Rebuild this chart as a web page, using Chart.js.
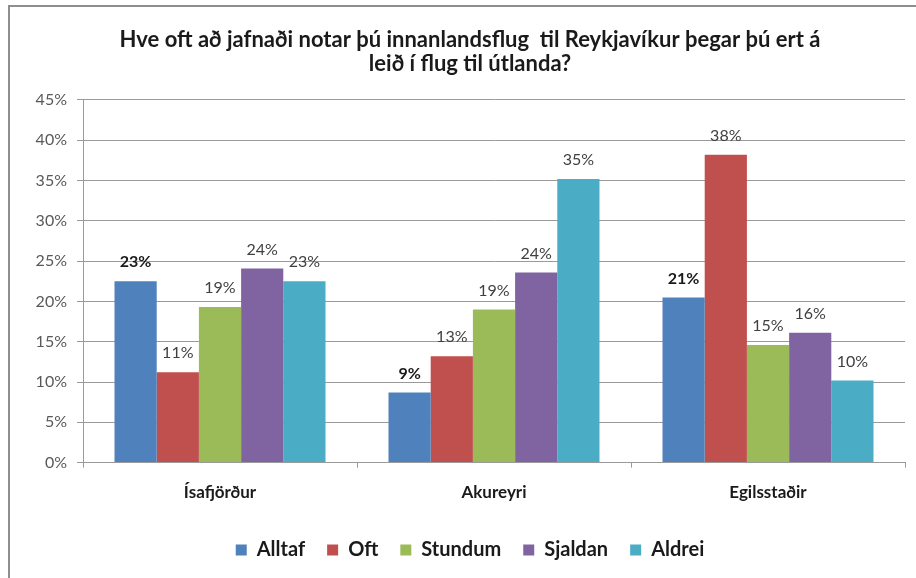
<!DOCTYPE html>
<html>
<head>
<meta charset="utf-8">
<script src="https://cdn.jsdelivr.net/npm/chart.js@4/dist/chart.umd.min.js"></script>
<style>
    html, body { margin: 0; padding: 0; background: #fff; }
    #wrap { position: relative; width: 916px; height: 578px; overflow: hidden; }
    #frame { position: absolute; left: 8px; top: 5px; width: 950px; height: 650px; border-left: 2px solid #8e8e8e; border-top: 2px solid #8e8e8e; }
    canvas { position: absolute; left: 0; top: 0; }
</style>
</head>
<body>
<div id="wrap">
    <div id="frame"></div>
    <canvas id="chart" width="916" height="578"></canvas>
</div>
<script>
var categories = ['Ísafjörður', 'Akureyri', 'Egilsstaðir'];
var seriesNames = ['Alltaf', 'Oft', 'Stundum', 'Sjaldan', 'Aldrei'];
var alltaf = [22.5, 8.7, 20.5];
var oft = [11.2, 13.2, 38.2];
var stundum = [19.3, 19.0, 14.6];
var sjaldan = [24.1, 23.6, 16.1];
var aldrei = [22.5, 35.2, 10.2];
var yTicks = [0, 5, 10, 15, 20, 25, 30, 35, 40, 45];
var colors = ['#4F81BD', '#C0504D', '#9BBB59', '#8064A2', '#4BACC6'];

var font = 'Lato, "Open Sans", sans-serif';

// labels above the bars, the first series in bold
var barLabels = {
    id: 'barLabels',
    afterDatasetsDraw: function (chart) {
        var ctx = chart.ctx;
        ctx.save();
        ctx.textAlign = 'center';
        ctx.textBaseline = 'middle';
        chart.data.datasets.forEach(function (ds, i) {
            var meta = chart.getDatasetMeta(i);
            ctx.font = (i === 0 ? 'bold ' : '') + '16px ' + font;
            ctx.fillStyle = i === 0 ? '#1a1a1a' : '#404040';
            meta.data.forEach(function (bar, j) {
                ctx.fillText(Math.round(ds.data[j]) + '%', bar.x, bar.y - 19);
            });
        });
        ctx.restore();
    }
};

var ctx = document.getElementById('chart');
var values = [alltaf, oft, stundum, sjaldan, aldrei];

var chart = new Chart(ctx, {
    type: 'bar',
    data: {
        labels: categories,
        datasets: seriesNames.map(function (name, i) {
            return {
                label: name,
                data: values[i],
                backgroundColor: colors[i],
                borderWidth: 0,
                categoryPercentage: 0.77,
                barPercentage: 1
            };
        })
    },
    options: {
        responsive: false,
        animation: false,
        layout: { padding: { left: 35, right: 11, top: 12, bottom: 8 } },
        plugins: {
            title: {
                display: true,
                text: ['Hve oft að jafnaði notar þú innanlandsflug  til Reykjavíkur þegar þú ert á', 'leið í flug til útlanda?'],
                color: '#1a1a1a',
                font: { family: font, size: 22, weight: 'bold', lineHeight: 1.09 },
                padding: { top: 16, bottom: 24 }
            },
            legend: {
                position: 'bottom',
                labels: {
                    color: '#1a1a1a',
                    font: { family: font, size: 20, weight: 'bold' },
                    boxWidth: 11,
                    boxHeight: 11,
                    padding: 22
                }
            },
            tooltip: { enabled: false }
        },
        scales: {
            x: {
                grid: { drawOnChartArea: false, drawTicks: true, tickLength: 5, color: '#9a9a9a' },
                border: { color: '#9a9a9a' },
                ticks: {
                    color: '#1a1a1a',
                    font: { family: font, size: 17, weight: 'bold' },
                    padding: 15
                }
            },
            y: {
                min: 0,
                max: 45,
                afterBuildTicks: function (scale) {
                    scale.ticks = yTicks.map(function (v) { return { value: v }; });
                },
                afterFit: function (scale) {
                    scale.width = 48;
                },
                grid: { color: '#9a9a9a', tickLength: 6 },
                border: { color: '#9a9a9a' },
                ticks: {
                    color: '#595959',
                    font: { family: font, size: 16 },
                    padding: 10,
                    callback: function (v) { return v + '%'; }
                }
            }
        }
    },
    plugins: [barLabels]
});
</script>
</body>
</html>
